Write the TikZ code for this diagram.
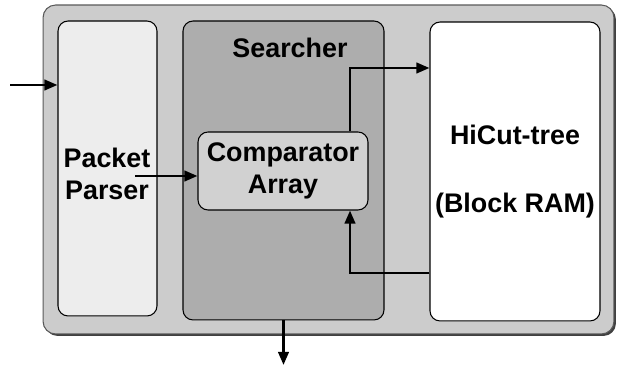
\documentclass[tikz,border=0pt]{standalone}
\usepackage{fontspec}
\setmainfont{Liberation Sans}
\usetikzlibrary{arrows.meta,shadows}
\definecolor{outerfill}{gray}{0.80}
\definecolor{parserfill}{gray}{0.93}
\definecolor{searchfill}{gray}{0.68}
\definecolor{cmpfill}{gray}{0.82}
\tikzset{
  blk/.style={draw=black, line width=0.6pt, rounded corners=0.2cm, inner sep=0pt},
  lbl/.style={font=\fontsize{15.3}{18.5}\selectfont\bfseries, align=center},
  arr/.style={line width=1.5pt, -{Triangle[length=7.5pt,width=6pt]}}
}
\begin{document}
\begin{tikzpicture}[x=0.02cm,y=-0.02cm]
\useasboundingbox (0,0) rectangle (619,367);
% outer frame with shadow
\node[blk, draw=gray!70!black, fill=outerfill, rounded corners=0.25cm, minimum width=11.42cm, minimum height=6.58cm,
      drop shadow={shadow xshift=0.04cm, shadow yshift=-0.04cm, fill=black!75, opacity=1}] (outer) at (328.5,169.5) {};
\node[blk, fill=parserfill, minimum width=1.98cm, minimum height=5.9cm] (pp) at (107.5,168.5) {};
\node[lbl] (ppt) at (107,174) {Packet\\Parser};
\node[blk, fill=searchfill, minimum width=4.02cm, minimum height=5.98cm] (sr) at (283.5,170.5) {};
\node[lbl] (srt) at (290,48) {Searcher};
\node[blk, fill=cmpfill, lbl, minimum width=3.4cm, minimum height=1.56cm] (cmp) at (283,171) {Comparator\\Array};
\node[blk, fill=white, lbl, minimum width=3.4cm, minimum height=5.98cm] (hc) at (515,171.5) {HiCut-tree\\[20pt](Block RAM)};
% connectors
\coordinate (in) at (10,85);
\coordinate (ps) at (135,176);
\coordinate (c1) at (350,0);
\coordinate (up) at (0,68);
\coordinate (dn) at (0,273);
\coordinate (out) at (283.5,365);
\draw[arr] (in) -- (pp.west |- in);
\draw[arr] (ps) -- (cmp.west |- ps);
\draw[arr] (cmp.north -| c1) |- (hc.west |- up);
\draw[arr] (hc.west |- dn) -| (cmp.south -| c1);
\draw[arr] (sr.south) -- (out);
\end{tikzpicture}
\end{document}
